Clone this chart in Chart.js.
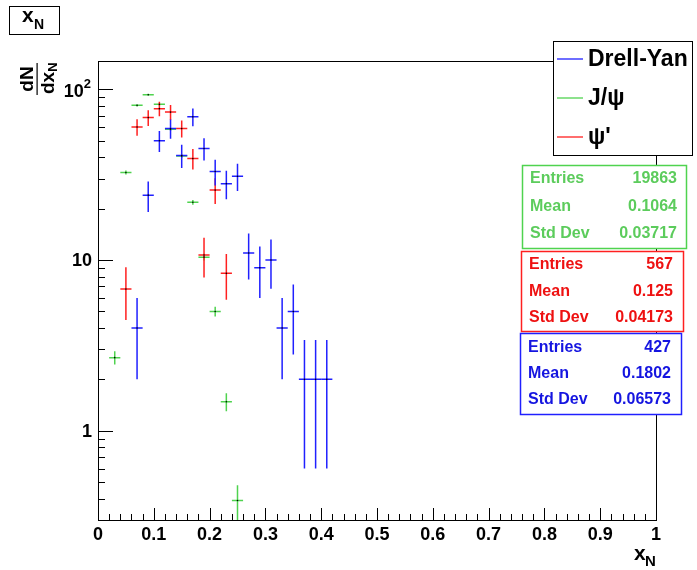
<!DOCTYPE html>
<html>
<head>
<meta charset="utf-8">
<script src="https://cdn.jsdelivr.net/npm/chart.js@4"></script>
<style>
  body { margin: 0; background: #fff; }
  #wrap { width: 697px; height: 570px; }
</style>
</head>
<body>
<div id="wrap"><canvas id="chart-xn" width="697" height="570"></canvas></div>
<script>
// Drell-Yan (blue)
const dyX = [0.07, 0.09, 0.11, 0.13, 0.15, 0.17, 0.19, 0.21, 0.23, 0.25, 0.27, 0.29, 0.31, 0.33, 0.35, 0.37, 0.39, 0.41];
const dyY = [4, 24, 50, 59, 41, 69, 45, 33, 28, 31, 11, 9, 10, 4, 5, 2, 2, 2];
const dyErr = [2, 4.9, 7.1, 7.7, 6.4, 8.3, 6.7, 5.7, 5.3, 5.6, 3.3, 3, 3.2, 2, 2.2, 1.4, 1.4, 1.4];

// J/psi (green)
const jpsiX = [0.03, 0.05, 0.07, 0.09, 0.11, 0.13, 0.15, 0.17, 0.19, 0.21, 0.23, 0.25];
const jpsiY = [2.68, 32.6, 80.6, 93, 81.7, 58.3, 40.7, 21.8, 10.4, 5.0, 1.48, 0.39];
const jpsiErr = [0.24, 0.84, 1.3, 1.4, 1.3, 1.1, 0.94, 0.69, 0.47, 0.33, 0.18, 0.09];

// psi' (red)
const psiX = [0.05, 0.07, 0.09, 0.11, 0.13, 0.15, 0.17, 0.19, 0.21, 0.23];
const psiY = [6.76, 60.2, 68.3, 77.1, 73.6, 58.9, 39.3, 10.7, 25.7, 8.36];
const psiErr = [2.3, 6.7, 7.2, 7.6, 7.5, 6.7, 5.4, 2.8, 4.4, 2.5];

const binHalfWidth = 0.01;

const xTickValues = [0, 0.1, 0.2, 0.3, 0.4, 0.5, 0.6, 0.7, 0.8, 0.9, 1];
const xTickLabels = ['0', '0.1', '0.2', '0.3', '0.4', '0.5', '0.6', '0.7', '0.8', '0.9', '1'];
const yTickValues = [1, 10, 100];
const yTickLabels = ['1', '10', '10^2'];

const statLabels = ['Entries', 'Mean', 'Std Dev'];
const jpsiStats = ['19863', '0.1064', '0.03717'];
const psiStats = ['567', '0.125', '0.04173'];
const dyStats = ['427', '0.1802', '0.06573'];

const colors = {
    green: '#4fd34f',
    greenText: '#5ccc5c',
    red: '#ff2020',
    redText: '#ee1111',
    blue: '#2020ff',
    blueText: '#1515e0'
};

const FONT = "'Liberation Sans', Arial, sans-serif";

function toPoints(xs, ys) {
    return xs.map((x, i) => ({ x: x, y: ys[i] }));
}

const series = [
    { x: jpsiX, y: jpsiY, err: jpsiErr, color: colors.green },
    { x: psiX, y: psiY, err: psiErr, color: colors.red },
    { x: dyX, y: dyY, err: dyErr, color: colors.blue }
];

const rootStyle = {
    id: 'rootStyle',
    beforeDatasetsDraw(chart) {
        const ctx = chart.ctx;
        const xs = chart.scales.x, ys = chart.scales.y;
        const a = chart.chartArea;
        ctx.save();
        ctx.beginPath();
        ctx.rect(a.left, a.top, a.right - a.left, a.bottom - a.top);
        ctx.clip();
        ctx.lineWidth = 1.5;
        series.forEach(s => {
            ctx.strokeStyle = s.color;
            s.x.forEach((x, i) => {
                const px = xs.getPixelForValue(x);
                const py = ys.getPixelForValue(s.y[i]);
                const lo = Math.max(s.y[i] - s.err[i], 0.01);
                ctx.beginPath();
                ctx.moveTo(xs.getPixelForValue(x - binHalfWidth), py);
                ctx.lineTo(xs.getPixelForValue(x + binHalfWidth), py);
                ctx.moveTo(px, ys.getPixelForValue(s.y[i] + s.err[i]));
                ctx.lineTo(px, ys.getPixelForValue(lo));
                ctx.stroke();
            });
        });
        ctx.restore();
    },
    afterDraw(chart) {
        const ctx = chart.ctx;
        const xs = chart.scales.x, ys = chart.scales.y;
        const a = chart.chartArea;
        ctx.save();

        // frame
        ctx.strokeStyle = '#000';
        ctx.lineWidth = 1;
        ctx.strokeRect(Math.round(a.left) + 0.5, Math.round(a.top) + 0.5, Math.round(a.right - a.left), Math.round(a.bottom - a.top));

        // x ticks
        ctx.beginPath();
        for (let k = 0; k <= 50; k++) {
            const px = Math.round(xs.getPixelForValue(k / 50)) + 0.5;
            const len = (k % 5 === 0) ? 12 : 6;
            ctx.moveTo(px, a.bottom);
            ctx.lineTo(px, a.bottom - len);
        }
        // y ticks (log)
        [0.1, 1, 10, 100].forEach(dec => {
            for (let m = 1; m <= 9; m++) {
                const v = dec * m;
                if (v < ys.min || v > ys.max) continue;
                const py = Math.round(ys.getPixelForValue(v)) + 0.5;
                const len = (m === 1) ? 15 : 7;
                ctx.moveTo(a.left, py);
                ctx.lineTo(a.left + len, py);
            }
        });
        ctx.stroke();

        // x tick labels
        ctx.fillStyle = '#000';
        ctx.font = 'bold 18px ' + FONT;
        ctx.textAlign = 'center';
        ctx.textBaseline = 'middle';
        xTickValues.forEach((v, i) => {
            ctx.fillText(xTickLabels[i], xs.getPixelForValue(v), 535);
        });

        // y tick labels
        ctx.textAlign = 'right';
        yTickValues.forEach((v, i) => {
            const py = ys.getPixelForValue(v);
            const lab = yTickLabels[i];
            if (lab.indexOf('^') >= 0) {
                const parts = lab.split('^');
                ctx.font = 'bold 13px ' + FONT;
                ctx.fillText(parts[1], 91, py - 5);
                const w = ctx.measureText(parts[1]).width;
                ctx.font = 'bold 18px ' + FONT;
                ctx.fillText(parts[0], 91 - w, py + 3);
            } else {
                ctx.font = 'bold 18px ' + FONT;
                ctx.fillText(lab, 92, py + 1);
            }
        });

        // x axis title
        ctx.textAlign = 'left';
        ctx.font = 'bold 21px ' + FONT;
        ctx.fillText('x', 634, 554);
        ctx.font = 'bold 15px ' + FONT;
        ctx.fillText('N', 645, 562);

        // y axis title: dN / dx_N rotated
        ctx.save();
        ctx.translate(37, 79);
        ctx.rotate(-Math.PI / 2);
        ctx.font = 'bold 19px ' + FONT;
        ctx.textAlign = 'center';
        ctx.textBaseline = 'alphabetic';
        ctx.fillText('dN', 0, -4);
        ctx.fillRect(-16, -0.5, 32, 1.2);
        ctx.textAlign = 'left';
        ctx.fillText('dx', -15, 17);
        const dxw = ctx.measureText('dx').width;
        ctx.font = 'bold 13px ' + FONT;
        ctx.fillText('N', -15 + dxw, 20);
        ctx.restore();

        // title box
        ctx.fillStyle = '#fff';
        ctx.fillRect(9.5, 6.5, 50, 28);
        ctx.strokeRect(9.5, 6.5, 50, 28);
        ctx.fillStyle = '#000';
        ctx.textAlign = 'left';
        ctx.textBaseline = 'middle';
        ctx.font = 'bold 21px ' + FONT;
        ctx.fillText('x', 22, 16);
        ctx.font = 'bold 14px ' + FONT;
        ctx.fillText('N', 34, 25);

        // legend
        ctx.fillStyle = '#fff';
        ctx.fillRect(553.5, 41.5, 139, 114);
        ctx.strokeStyle = '#000';
        ctx.lineWidth = 1;
        ctx.strokeRect(553.5, 41.5, 139, 114);
        const legend = [
            { text: 'Drell-Yan', color: colors.blue, y: 59 },
            { text: 'J/\u03C8', color: colors.green, y: 98 },
            { text: '\u03C8\'', color: colors.red, y: 137 }
        ];
        legend.forEach(l => {
            ctx.strokeStyle = l.color;
            ctx.lineWidth = 1.3;
            ctx.beginPath();
            ctx.moveTo(557, l.y);
            ctx.lineTo(583, l.y);
            ctx.stroke();
            ctx.fillStyle = '#000';
            ctx.font = 'bold 23px ' + FONT;
            ctx.fillText(l.text, 588, l.y + 1);
        });

        // stat boxes
        const boxes = [
            { x: 522, y: 165, w: 164, h: 83, color: colors.green, text: colors.greenText, vals: jpsiStats, rows: [179, 207, 234], lx: 530, rx: 677 },
            { x: 521, y: 251, w: 162, h: 80, color: colors.red, text: colors.redText, vals: psiStats, rows: [265, 292, 318], lx: 529, rx: 673 },
            { x: 520, y: 333, w: 161, h: 81, color: colors.blue, text: colors.blueText, vals: dyStats, rows: [348, 374, 400], lx: 528, rx: 671 }
        ];
        boxes.forEach(b => {
            ctx.fillStyle = '#fff';
            ctx.fillRect(b.x + 0.5, b.y + 0.5, b.w, b.h);
            ctx.strokeStyle = b.color;
            ctx.lineWidth = 1.5;
            ctx.strokeRect(b.x + 0.5, b.y + 0.5, b.w, b.h);
            ctx.fillStyle = b.text;
            ctx.font = 'bold 16px ' + FONT;
            statLabels.forEach((lab, i) => {
                ctx.textAlign = 'left';
                ctx.fillText(lab, b.lx, b.rows[i]);
                ctx.textAlign = 'right';
                ctx.fillText(b.vals[i], b.rx, b.rows[i]);
            });
        });

        ctx.restore();
    }
};

new Chart(document.getElementById('chart-xn'), {
    type: 'scatter',
    data: {
        datasets: [
            { label: 'J/psi', data: toPoints(jpsiX, jpsiY), pointRadius: 0.8, pointBackgroundColor: '#000', pointBorderWidth: 0 },
            { label: "psi'", data: toPoints(psiX, psiY), pointRadius: 0.8, pointBackgroundColor: '#000', pointBorderWidth: 0 },
            { label: 'Drell-Yan', data: toPoints(dyX, dyY), pointRadius: 0.8, pointBackgroundColor: '#000', pointBorderWidth: 0 }
        ]
    },
    options: {
        responsive: false,
        animation: false,
        layout: { padding: { left: 98, top: 61, right: 41, bottom: 50 } },
        plugins: {
            legend: { display: false },
            tooltip: { enabled: false }
        },
        scales: {
            x: { type: 'linear', min: 0, max: 1, display: false },
            y: { type: 'logarithmic', min: 0.3, max: 146.6, display: false }
        }
    },
    plugins: [rootStyle]
});
</script>
</body>
</html>
